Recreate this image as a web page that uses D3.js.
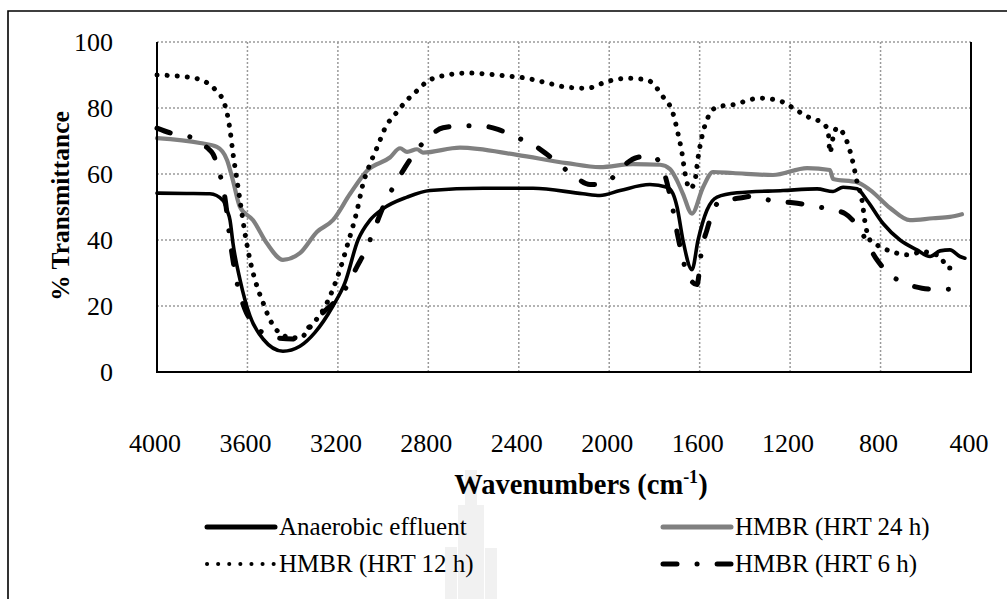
<!DOCTYPE html>
<html>
<head>
<meta charset="utf-8">
<script src="https://cdn.jsdelivr.net/npm/d3@7"></script>
<style>
  html, body { margin: 0; padding: 0; background: #fff; }
  svg { display: block; }
</style>
</head>
<body>
<svg id="chart" width="1007" height="599"></svg>
<script>
// ---- axis ticks ----
const xTicks = [4000, 3600, 3200, 2800, 2400, 2000, 1600, 1200, 800, 400];
const yTicks = [0, 20, 40, 60, 80, 100];

// ---- FTIR spectra: wavenumber (cm-1) and % transmittance ----
const anaerobicWn = [4000, 3870, 3766, 3708, 3690, 3677, 3664, 3633, 3589, 3531, 3443, 3368, 3301, 3222, 3169, 3111, 3058, 3000, 2894, 2793, 2558, 2337, 2116, 2041, 1952, 1820, 1744, 1718, 1700, 1674, 1634, 1607, 1568, 1523, 1435, 1231, 1081, 1010, 966, 904, 860, 789, 714, 639, 581, 537, 493, 449, 427];
const anaerobicT  = [54.2, 54.1, 54, 52, 49, 46, 39, 28, 17, 10, 6.3, 7.8, 12, 20, 27, 40, 46, 49.5, 53, 55, 55.7, 55.7, 54, 53.5, 55, 56.8, 56, 54, 50, 40, 31, 40, 49, 53, 54.3, 55, 55.5, 54.7, 56, 55.5, 52, 45, 40, 37, 35, 36.7, 37, 35, 34.5];

const hrt24Wn = [4000, 3810, 3735, 3690, 3664, 3633, 3575, 3514, 3443, 3368, 3292, 3222, 3146, 3071, 2970, 2925, 2894, 2850, 2824, 2660, 2408, 2187, 2041, 1895, 1775, 1731, 1700, 1674, 1634, 1585, 1541, 1453, 1276, 1125, 1024, 1010, 904, 847, 758, 670, 568, 493, 440];
const hrt24T  = [70.9, 69.4, 68.2, 64.2, 58, 50, 46, 39, 34, 36, 42.5, 46, 54, 61, 65, 67.8, 66.7, 67.5, 66.5, 68, 65.8, 63.3, 62.1, 63, 62.8, 61.5, 58, 54, 48, 56, 60.6, 60.3, 59.7, 61.8, 61.2, 58.5, 57.5, 55.2, 49.7, 46, 46.6, 47, 47.8];

const hrt12Wn = [4000, 3867, 3788, 3735, 3708, 3690, 3677, 3664, 3646, 3633, 3611, 3589, 3558, 3531, 3500, 3456, 3412, 3368, 3323, 3248, 3191, 3160, 3115, 3089, 3058, 3027, 2983, 2956, 2894, 2846, 2806, 2717, 2629, 2540, 2452, 2364, 2275, 2187, 2098, 2010, 1921, 1833, 1762, 1718, 1696, 1678, 1665, 1643, 1621, 1607, 1590, 1568, 1523, 1453, 1333, 1231, 1187, 1112, 1055, 1032, 1024, 1010, 993, 948, 922, 904, 882, 869, 847, 802, 727, 683, 612, 537, 502, 480];
const hrt12T  = [90, 89.4, 88, 85, 82.4, 78.4, 73.3, 66.3, 58, 52, 42, 34, 26, 21, 15.8, 11.7, 10.5, 10.3, 13.6, 21, 31, 38, 49, 57, 63, 68, 75, 77.3, 82.4, 85.5, 88, 90, 90.6, 90.3, 89.7, 89, 87.6, 86.3, 86, 88, 89, 88.5, 83.4, 78.4, 72.3, 66.3, 60.3, 55.5, 58, 65, 71.3, 76.4, 80.3, 81, 83, 81.8, 80, 77, 75.4, 73, 66.5, 71, 74, 69.7, 63.5, 57.6, 52, 45.5, 40, 38, 36, 35.5, 36.4, 35, 31.5, 31.5];

const hrt6Wn = [4000, 3943, 3867, 3810, 3779, 3752, 3726, 3699, 3677, 3646, 3611, 3567, 3522, 3469, 3399, 3368, 3332, 3266, 3204, 3160, 3115, 3080, 3049, 3000, 2947, 2903, 2859, 2801, 2735, 2651, 2571, 2492, 2408, 2350, 2284, 2227, 2156, 2085, 2010, 1948, 1877, 1811, 1758, 1722, 1696, 1656, 1612, 1590, 1568, 1545, 1510, 1422, 1364, 1276, 1187, 1112, 1032, 957, 900, 816, 767, 696, 617, 546, 475];
const hrt6T  = [73.9, 72.5, 71.5, 70, 68, 66, 61, 52.5, 40, 27, 19, 14, 11.5, 10.3, 10, 10.5, 13.3, 18, 22, 26, 32, 36.5, 41.5, 50, 57, 62, 66.5, 71, 74, 74.6, 74.6, 73.5, 71, 69.4, 66.4, 63.3, 59.4, 56.8, 57.5, 61.8, 65, 65.5, 60.5, 50.5, 41, 30, 26.5, 37.6, 43, 48, 51.8, 52.7, 53.3, 51.8, 51.3, 50.5, 49.4, 48, 44, 34, 30, 27, 25.4, 25, 25.2];

const seriesNames = ["Anaerobic effluent", "HMBR (HRT 24 h)", "HMBR (HRT 12 h)", "HMBR (HRT 6 h)"];

// ---- series styles ----
const styles = [
  { color: "#000000", width: 3.6, dash: null,            cap: "round" },
  { color: "#808080", width: 4.2, dash: null,            cap: "round" },
  { color: "#000000", width: 5,   dash: "0.1 10",        cap: "round" },
  { color: "#000000", width: 5,   dash: "14 20 0.1 20",  cap: "round" }
];
const series = [
  { wn: anaerobicWn, t: anaerobicT },
  { wn: hrt24Wn,     t: hrt24T },
  { wn: hrt12Wn,     t: hrt12T },
  { wn: hrt6Wn,      t: hrt6T }
];

const serif = "Liberation Serif";
const svg = d3.select("#chart");

// outer chart frame
svg.append("path")
  .attr("d", "M8,620 L8,11 L1020,11")
  .attr("fill", "none").attr("stroke", "#000").attr("stroke-width", 1.6);

const plot = { left: 157, right: 971, top: 42, bottom: 372 };
const x = d3.scaleLinear().domain([4000, 400]).range([plot.left, plot.right]);
const y = d3.scaleLinear().domain([0, 100]).range([plot.bottom, plot.top]);

// faint seal behind the legend
const seal = svg.append("g").attr("fill", "#f1f1f1");
[[465, 470, 12, 140], [458, 505, 7, 110], [477, 505, 7, 110], [445, 547, 12, 60], [485, 548, 12, 60]]
  .forEach(r => seal.append("rect").attr("x", r[0]).attr("y", r[1]).attr("width", r[2]).attr("height", r[3]));

// gridlines
const grid = svg.append("g")
  .attr("stroke", "#9a9a9a").attr("stroke-width", 1.5).attr("stroke-dasharray", "2 2");
yTicks.filter(v => v > 0).forEach(v => {
  grid.append("line").attr("x1", plot.left).attr("x2", plot.right).attr("y1", y(v)).attr("y2", y(v));
});
xTicks.slice(1, -1).forEach(v => {
  grid.append("line").attr("x1", x(v)).attr("x2", x(v)).attr("y1", plot.top).attr("y2", plot.bottom);
});

// spectra
series.forEach((s, k) => {
  const line = d3.line()
    .x((d, i) => x(s.wn[i]))
    .y(d => y(d))
    .curve(d3.curveMonotoneX);
  const st = styles[k];
  svg.append("path")
    .attr("d", line(s.t))
    .attr("fill", "none")
    .attr("stroke", st.color)
    .attr("stroke-width", st.width)
    .attr("stroke-linecap", st.cap)
    .attr("stroke-linejoin", "round")
    .attr("stroke-dasharray", st.dash);
});

// plot border (left, bottom, right)
svg.append("path")
  .attr("d", `M${plot.left},${plot.top} L${plot.left},${plot.bottom} L${plot.right},${plot.bottom} L${plot.right},${plot.top}`)
  .attr("fill", "none").attr("stroke", "#000").attr("stroke-width", 2);

// axes
const xAxis = svg.append("g")
  .attr("transform", `translate(0,${plot.bottom})`)
  .call(d3.axisBottom(x).tickValues(xTicks).tickSize(0).tickPadding(62).tickFormat(d3.format("d")));
const yAxis = svg.append("g")
  .attr("transform", `translate(${plot.left},0)`)
  .call(d3.axisLeft(y).tickValues(yTicks).tickSize(0).tickPadding(44));
[xAxis, yAxis].forEach(g => {
  g.attr("font-family", serif).attr("font-size", 26);
  g.select(".domain").remove();
  g.selectAll("text").attr("fill", "#000");
});
xAxis.selectAll("text").attr("dx", -2.5);

// axis titles
const xTitle = svg.append("text")
  .attr("x", 581).attr("y", 494)
  .attr("text-anchor", "middle")
  .attr("font-family", serif).attr("font-size", 28.5).attr("font-weight", "bold");
xTitle.append("tspan").text("Wavenumbers (cm");
xTitle.append("tspan").attr("font-size", 18).attr("dy", -11).text("-1");
xTitle.append("tspan").attr("dy", 11).text(")");

svg.append("text")
  .attr("transform", "translate(69,206) rotate(-90)")
  .attr("text-anchor", "middle")
  .attr("font-family", serif).attr("font-size", 25.5).attr("font-weight", "bold")
  .text("% Transmittance");

// legend
const legendPos = [
  { lx: 205, ty: 535 }, { lx: 661, ty: 535 },
  { lx: 205, ty: 572 }, { lx: 661, ty: 572 }
];
seriesNames.forEach((name, k) => {
  const p = legendPos[k], st = styles[k];
  svg.append("line")
    .attr("x1", p.lx + 2).attr("x2", p.lx + 70)
    .attr("y1", p.ty - 8).attr("y2", p.ty - 8)
    .attr("stroke", st.color)
    .attr("stroke-width", k === 2 ? 4 : 5)
    .attr("stroke-linecap", st.cap)
    .attr("stroke-dasharray", k === 2 ? "0.1 11" : st.dash);
  svg.append("text")
    .attr("x", p.lx + 74).attr("y", p.ty)
    .attr("font-family", serif).attr("font-size", 25)
    .text(name);
});
</script>
</body>
</html>
